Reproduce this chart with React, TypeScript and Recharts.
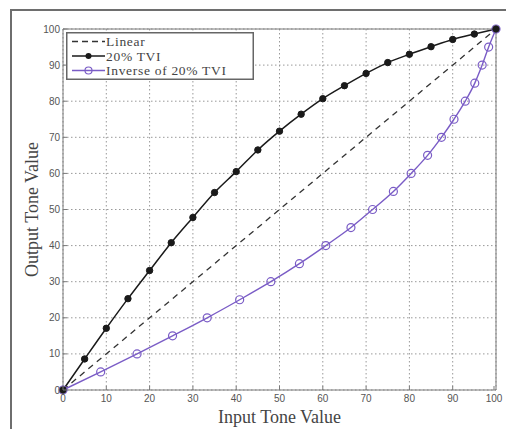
import { CartesianGrid, Line, LineChart, XAxis, YAxis } from "recharts";

// Values.
const tviInput = [0, 5, 10, 15, 20, 25, 30, 35, 40, 45, 50, 55, 60, 65, 70, 75, 80, 85, 90, 95, 100];
const tviOutput = [0, 8.6, 17.1, 25.3, 33.1, 40.8, 47.8, 54.7, 60.5, 66.5, 71.7, 76.4, 80.7, 84.3, 87.7, 90.7, 93.0, 95.1, 97.1, 98.6, 100];
const inverseInput = [0, 8.7, 17.1, 25.3, 33.3, 40.8, 48.0, 54.6, 60.7, 66.5, 71.5, 76.3, 80.4, 84.2, 87.4, 90.3, 92.9, 95.1, 96.8, 98.3, 100];
const inverseOutput = [0, 5, 10, 15, 20, 25, 30, 35, 40, 45, 50, 55, 60, 65, 70, 75, 80, 85, 90, 95, 100];
const linearInput = [0, 100];
const linearOutput = [0, 100];
const ticks = [0, 10, 20, 30, 40, 50, 60, 70, 80, 90, 100];

const legendLabels = ["Linear", "20% TVI", "Inverse of 20% TVI"];

const toPoints = (xs: number[], ys: number[]) => xs.map((x, i) => ({ x, y: ys[i] }));
const tviData = toPoints(tviInput, tviOutput);
const inverseData = toPoints(inverseInput, inverseOutput);
const linearData = toPoints(linearInput, linearOutput);

const W = 506;
const H = 429;
const TOP = 29;
const BOTTOM = 390;
const LEFT = 63;
const RIGHT = 496;

const AXIS = "#7a7a7a";
const TICK_TEXT = "#555";
const PURPLE = "#7a5cc6";
const SERIF = "'Liberation Serif', 'DejaVu Serif', serif";
const SANS = "'Liberation Sans', Arial, sans-serif";

const BottomTick = (props: any) => {
  const { x, payload } = props;
  return (
    <g>
      <line x1={x} x2={x} y1={BOTTOM} y2={BOTTOM - 4} stroke={AXIS} />
      <text x={x} y={BOTTOM + 12} textAnchor="middle" fontSize={10} fill={TICK_TEXT} fontFamily={SANS}>
        {payload.value}
      </text>
    </g>
  );
};

const LeftTick = (props: any) => {
  const { y, payload } = props;
  return (
    <g>
      <line x1={LEFT} x2={LEFT + 4} y1={y} y2={y} stroke={AXIS} />
      <text x={LEFT - 3} y={y + 3.5} textAnchor="end" fontSize={10} fill={TICK_TEXT} fontFamily={SANS}>
        {payload.value}
      </text>
    </g>
  );
};

const TopTick = (props: any) => (
  <line x1={props.x} x2={props.x} y1={TOP} y2={TOP + 4} stroke={AXIS} />
);

const RightTick = (props: any) => (
  <line x1={RIGHT} x2={RIGHT - 4} y1={props.y} y2={props.y} stroke={AXIS} />
);

const LegendBox = () => (
  <svg width={188} height={48} style={{ position: "absolute", left: 66, top: 32 }}>
    <rect x={0.75} y={0.75} width={186.5} height={46.5} fill="#fff" stroke="#666" strokeWidth={1.5} />
    <line x1={6} x2={39} y1={9.5} y2={9.5} stroke="#333" strokeWidth={1.3} strokeDasharray="6 4" />
    <line x1={6} x2={39} y1={24} y2={24} stroke="#1a1a1a" strokeWidth={1.5} />
    <circle cx={22.5} cy={24} r={3} fill="#1a1a1a" />
    <line x1={6} x2={39} y1={38.5} y2={38.5} stroke={PURPLE} strokeWidth={1.3} />
    <circle cx={22.5} cy={38.5} r={3.5} fill="none" stroke={PURPLE} strokeWidth={1.2} />
    {legendLabels.map((label, i) => (
      <text key={label} x={40} y={14 + i * 14.5} fontSize={13.5} letterSpacing={0.7} fill="#444" fontFamily={SERIF}>
        {label}
      </text>
    ))}
  </svg>
);

export default function App() {
  return (
    <div style={{ position: "fixed", left: 0, top: 0, width: W, height: H, background: "#fff" }}>
      <div
        style={{
          position: "absolute",
          left: 10,
          top: 9,
          right: -4,
          bottom: -4,
          borderLeft: "2px solid #6e6e6e",
          borderTop: "2px solid #6e6e6e",
        }}
      />
      <LineChart
        width={W}
        height={H}
        margin={{ top: TOP - 1, right: W - RIGHT - 1, bottom: H - BOTTOM - 38, left: LEFT - 30 }}
        style={{ position: "absolute", left: 0, top: 0 }}
      >
        <CartesianGrid
          xAxisId="bottom"
          yAxisId="left"
          stroke="#999"
          strokeDasharray="1.5 2.5"
          horizontalValues={ticks}
          verticalValues={ticks}
        />
        <XAxis
          xAxisId="bottom"
          dataKey="x"
          type="number"
          domain={[0, 100]}
          ticks={ticks}
          height={38}
          stroke={AXIS}
          tickLine={false}
          tick={<BottomTick />}
          label={{ value: "Input Tone Value", position: "insideBottom", offset: 5, fontSize: 18, fill: "#444", fontFamily: SERIF }}
        />
        <XAxis
          xAxisId="top"
          orientation="top"
          dataKey="x"
          type="number"
          domain={[0, 100]}
          ticks={ticks}
          height={1}
          stroke={AXIS}
          tickLine={false}
          tick={<TopTick />}
        />
        <YAxis
          yAxisId="left"
          dataKey="y"
          type="number"
          domain={[0, 100]}
          ticks={ticks}
          width={30}
          stroke={AXIS}
          tickLine={false}
          tick={<LeftTick />}
          label={{ value: "Output Tone Value", angle: -90, position: "insideLeft", offset: -1, fontSize: 18, fill: "#444", fontFamily: SERIF, style: { textAnchor: "middle" } }}
        />
        <YAxis
          yAxisId="right"
          orientation="right"
          dataKey="y"
          type="number"
          domain={[0, 100]}
          ticks={ticks}
          width={1}
          stroke={AXIS}
          tickLine={false}
          tick={<RightTick />}
        />
        <Line
          data={linearData}
          xAxisId="bottom"
          yAxisId="left"
          dataKey="y"
          type="linear"
          stroke="#333"
          strokeWidth={1.3}
          strokeDasharray="6 5"
          dot={false}
          isAnimationActive={false}
        />
        <Line
          data={inverseData}
          xAxisId="bottom"
          yAxisId="left"
          dataKey="y"
          type="monotone"
          stroke={PURPLE}
          strokeWidth={1.4}
          dot={{ r: 4, fill: "none", stroke: PURPLE, strokeWidth: 1.2 }}
          isAnimationActive={false}
        />
        <Line
          data={tviData}
          xAxisId="bottom"
          yAxisId="left"
          dataKey="y"
          type="monotone"
          stroke="#1a1a1a"
          strokeWidth={1.5}
          dot={{ r: 3.2, fill: "#1a1a1a", stroke: "#1a1a1a", strokeWidth: 1 }}
          isAnimationActive={false}
        />
      </LineChart>
      <LegendBox />
    </div>
  );
}
